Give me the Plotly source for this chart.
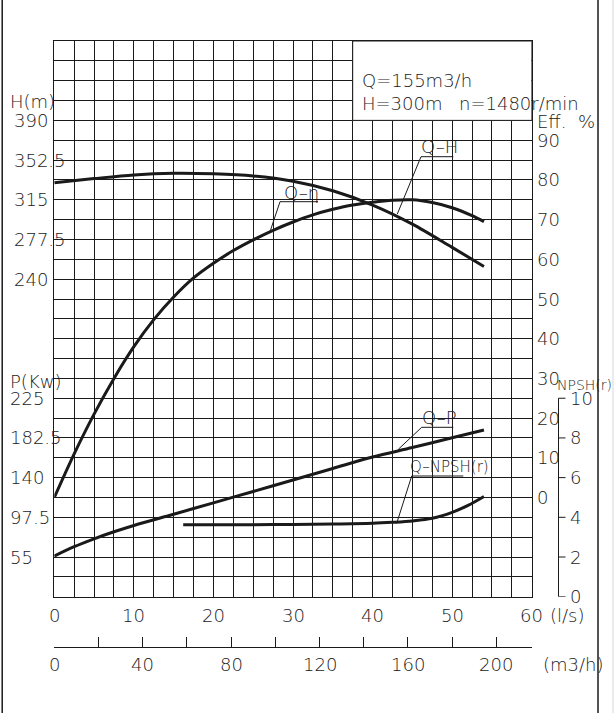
import plotly.graph_objects as go

# ---------------- data ----------------
qh_q = [0, 5, 10, 15, 20, 25, 30, 35, 40, 45, 50, 54]
qh_h = [331, 335, 338.5, 340, 339.5, 337.5, 332.5, 323.5, 310, 292, 270, 252]

eff_q = [0, 2.5, 5, 7.5, 10, 12.5, 15, 17.5, 20, 22.5, 25, 27.5, 30, 32.5, 35, 37.5, 40, 42.5, 45, 47.5, 50, 52.5, 54]
eff_v = [0, 11, 21, 30, 38, 44.8, 50.5, 55.3, 59, 62.2, 64.9, 67.3, 69.4, 71.2, 72.6, 73.7, 74.4, 74.9, 75, 74.3, 73, 71, 69.5]

p_q = [0, 2.5, 5, 7.5, 10, 15, 20, 25, 30, 35, 40, 45, 50, 54]
p_v = [56, 66, 74.5, 82, 88.8, 100.8, 113, 125.2, 137.5, 149.8, 162, 172.2, 182.7, 191]

npsh_q = [16.2, 20, 25, 30, 35, 40, 42.5, 45, 47.5, 50, 52, 54]
npsh_v = [3.62, 3.62, 3.63, 3.64, 3.66, 3.7, 3.75, 3.82, 3.95, 4.25, 4.6, 5.05]

h_ticks = [390, 352.5, 315, 277.5, 240]
h_labels = ["390", "352.5", "315", "277.5", "240"]
p_ticks = [225, 182.5, 140, 97.5, 55]
p_labels = ["225", "182.5", "140", "97.5", "55"]
eff_ticks = [90, 80, 70, 60, 50, 40, 30, 20, 10, 0]
eff_labels = ["90", "80", "70", "60", "50", "40", "30", "20", "10", "0"]
npsh_ticks = [10, 8, 6, 4, 2, 0]
npsh_labels = ["10", "8", "6", "4", "2", "0"]
ls_ticks = [0, 10, 20, 30, 40, 50, 60]
ls_labels = ["0", "10", "20", "30", "40", "50", "60"]
m3h_ticks = [0, 20, 40, 60, 80, 100, 120, 140, 160, 180, 200]
m3h_label_vals = [0, 40, 80, 120, 160, 200]
m3h_labels = ["0", "40", "80", "120", "160", "200"]

# ---------------- geometry (pixels) ----------------
W, H = 614, 713
GL, GR, GT, GB = 54.3, 531.7, 41.0, 596.7


def px(x):
    return x / W


def py(y):
    return 1 - y / H


INK = "#1a1a1a"
FONT = "DejaVu Sans"
FW = 200
FS = 18

fig = go.Figure()
line_style = dict(color=INK, width=3, shape="spline", smoothing=0.9)
fig.add_trace(go.Scatter(x=qh_q, y=qh_h, mode="lines", line=line_style, xaxis="x", yaxis="y", hoverinfo="skip"))
fig.add_trace(go.Scatter(x=eff_q, y=eff_v, mode="lines", line=line_style, xaxis="x", yaxis="y2", hoverinfo="skip"))
fig.add_trace(go.Scatter(x=p_q, y=p_v, mode="lines", line=line_style, xaxis="x", yaxis="y3", hoverinfo="skip"))
fig.add_trace(go.Scatter(x=npsh_q, y=npsh_v, mode="lines", line=line_style, xaxis="x", yaxis="y4", hoverinfo="skip"))
# carrier trace for the m3/h scale
fig.add_trace(go.Scatter(x=[0, 216], y=[None, None], mode="lines", xaxis="x2", yaxis="y", hoverinfo="skip"))

grid = dict(showgrid=True, gridcolor=INK, gridwidth=1, zeroline=False, showticklabels=False, ticks="",
            showline=True, mirror=True, linecolor=INK, linewidth=1)

fig.update_layout(
    width=W, height=H, autosize=False,
    margin=dict(l=0, r=0, t=0, b=0, pad=0),
    paper_bgcolor="white", plot_bgcolor="white",
    showlegend=False,
    font=dict(family=FONT, size=FS, color=INK, weight=FW),
    xaxis=dict(domain=[px(GL), px(GR)], range=[0, 60], tick0=0, dtick=2.5, **grid),
    yaxis=dict(domain=[py(GB), py(GT)], range=[-60, 465], tick0=-60, dtick=18.75, **grid),
    yaxis2=dict(overlaying="y", range=[-25, 115], visible=False),
    yaxis3=dict(overlaying="y", range=[12.5, 607.5], visible=False),
    yaxis4=dict(overlaying="y", range=[0, 28], visible=False),
    xaxis2=dict(overlaying="x", anchor="free", position=py(647.3), side="bottom", range=[0, 216],
                tickmode="array", tickvals=m3h_ticks, ticks="inside", ticklen=10, tickwidth=1,
                tickcolor=INK, showline=True, linecolor=INK, linewidth=1, showgrid=False,
                zeroline=False, showticklabels=False),
)

shapes = []
# white spec box at top right of grid
shapes.append(dict(type="rect", xref="x", yref="y", x0=37.5, x1=60, y0=390, y1=465,
                   fillcolor="white", line=dict(color=INK, width=1), layer="between"))
# page border lines
shapes.append(dict(type="line", xref="paper", yref="paper", x0=px(2.2), x1=px(2.2), y0=0, y1=1,
                   line=dict(color=INK, width=1.5)))
shapes.append(dict(type="line", xref="paper", yref="paper", x0=px(598), x1=px(598), y0=0, y1=1,
                   line=dict(color=INK, width=1.5)))
shapes.append(dict(type="line", xref="paper", yref="paper", x0=px(613), x1=px(613), y0=0, y1=1,
                   line=dict(color="#d8d8d8", width=1)))
# NPSH axis line and ticks
NX = 558.5
shapes.append(dict(type="line", xref="paper", yref="y4", x0=px(NX), x1=px(NX), y0=0, y1=10,
                   line=dict(color=INK, width=1)))
for v in npsh_ticks:
    shapes.append(dict(type="line", xref="paper", yref="y4", x0=px(NX), x1=px(NX + 7), y0=v, y1=v,
                       line=dict(color=INK, width=1)))


# leader lines for curve labels (pixel positions)
def leader(p0, p1, p2):
    return dict(type="path", xref="paper", yref="paper",
                path=f"M {px(p0[0])},{py(p0[1])} L {px(p1[0])},{py(p1[1])} L {px(p2[0])},{py(p2[1])}",
                line=dict(color=INK, width=1))


shapes.append(leader((397.3, 214), (421, 156.7), (453.3, 156.7)))
shapes.append(leader((270, 231.7), (280, 201.7), (318, 201.7)))
shapes.append(leader((398.3, 449.3), (421.7, 427.3), (453.3, 427.3)))
shapes.append(leader((396.7, 523.3), (411.7, 476), (463.3, 476)))
fig.update_layout(shapes=shapes)

ann = []


def text(t, x, y, xanchor="left", size=FS, xref="paper", yref="paper"):
    ann.append(dict(text=t, x=x, y=y, xref=xref, yref=yref, xanchor=xanchor, yanchor="middle",
                    showarrow=False, font=dict(size=size, family=FONT, color=INK, weight=FW), borderpad=0))


# left axes
text("H(m)", px(9), py(101.7))
for v, l in zip(h_ticks, h_labels):
    text(l, px(13), v, yref="y")
text("P(Kw)", px(9), py(381.7))
for v, l in zip(p_ticks, p_labels):
    text(l, px(9), v, yref="y3")
# right axes
text("Eff.&nbsp;&nbsp;%", px(536), py(121.7))
for v, l in zip(eff_ticks, eff_labels):
    text(l, px(536), v, yref="y2")
text("NPSH(r)", px(556), py(385), size=14)
for v, l in zip(npsh_ticks, npsh_labels):
    text(l, px(568.5), v, yref="y4")
# bottom axes
for v, l in zip(ls_ticks, ls_labels):
    text(l, v, py(615), xanchor="center", xref="x")
text("(l/s)", px(549), py(615))
for v, l in zip(m3h_label_vals, m3h_labels):
    text(l, v, py(664), xanchor="center", xref="x2")
text("(m3/h)", px(542), py(664))
# spec box
text("Q=155m3/h", px(361), py(80))
text("H=300m", px(361), py(103.3))
text("n=1480r/min", px(458), py(103.3))
# curve labels
text("Q–H", px(439), py(146.5), xanchor="center")
text("Q–η", px(301), py(192), xanchor="center")
text("Q–P", px(439), py(417.5), xanchor="center")
text("Q–NPSH(r)", px(449), py(467), xanchor="center", size=15)

fig.update_layout(annotations=ann)
fig.write_html("out.html")
